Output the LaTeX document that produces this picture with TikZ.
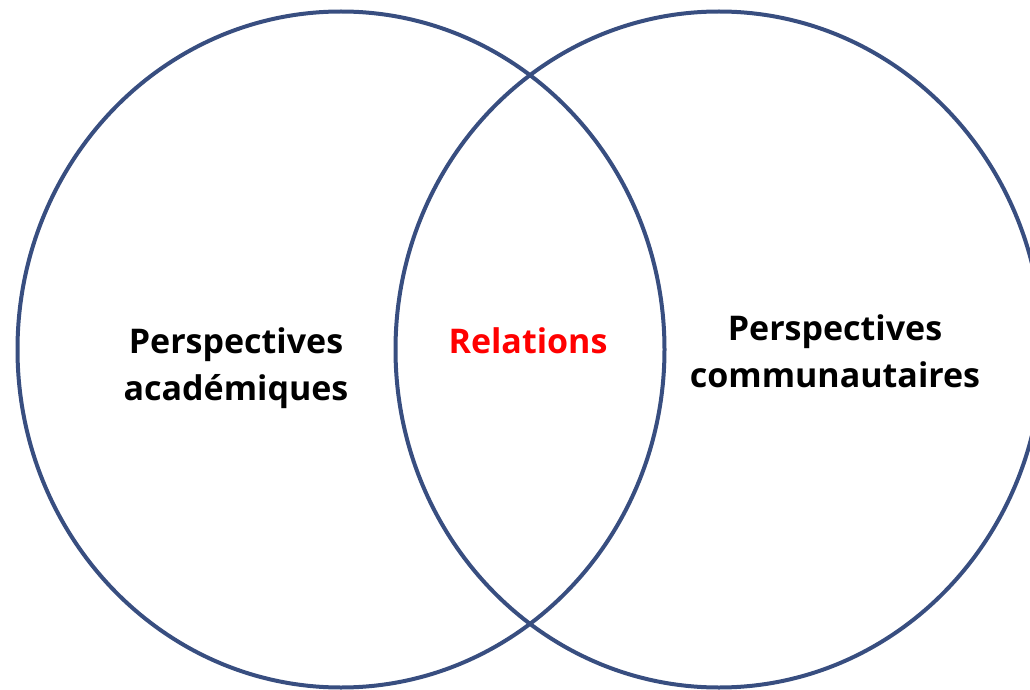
\documentclass[tikz,border=0pt]{standalone}
\usepackage{fontspec}
\setmainfont{Open Sans}
\definecolor{ringblue}{RGB}{56,78,128}
\definecolor{relred}{RGB}{255,0,0}
\tikzset{
  ring/.style={draw=ringblue, line width=4bp},
  label/.style={font=\bfseries\fontsize{34bp}{47bp}\selectfont, align=center, text=black, inner sep=0pt},
}
\begin{document}
\begin{tikzpicture}[x=1bp,y=-1bp]
\useasboundingbox (0,0) rectangle (1030,690);
\begin{scope}
\clip (0,0) rectangle (1030,690);
\draw[ring] (341,349.5) ellipse [x radius=323.5, y radius=338] coordinate (leftc);
\draw[ring] (719,349.5) ellipse [x radius=323.5, y radius=338] coordinate (rightc);
\end{scope}
\node[label, anchor=base] (acad) at (236,400) {Perspectives\\académiques};
\node[label, text=relred, anchor=base] (rel) at (528,353) {Relations};
\node[label, anchor=base] (comm) at (835,387) {Perspectives\\communautaires};
\end{tikzpicture}
\end{document}
